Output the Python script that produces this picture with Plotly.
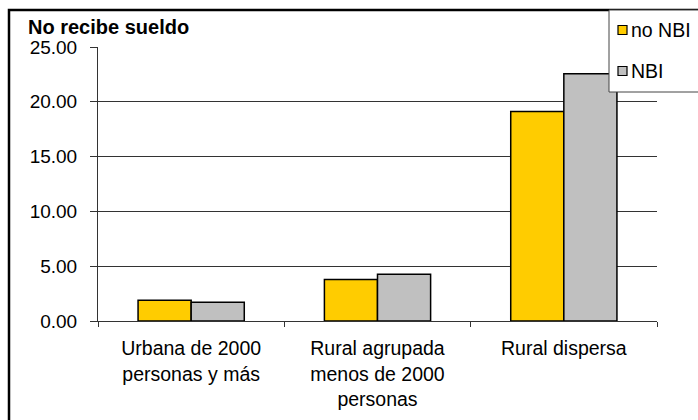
import plotly.graph_objects as go

categories = ["Urbana de 2000<br>personas y más", "Rural agrupada<br>menos de 2000<br>personas", "Rural dispersa"]
series_names = ["no NBI", "NBI"]
no_nbi = [1.90, 3.78, 19.12]
nbi = [1.71, 4.27, 22.57]
y_ticks = [0, 5, 10, 15, 20, 25]
title_text = "No recibe sueldo"

colors = ["#FFCC00", "#C0C0C0"]
W, H = 698, 420
L, R, T, B = 98, 657, 47, 321

def px(x):
    return (x - L) / (R - L)

def py(y):
    return (B - y) / (B - T)

FONT = "Liberation Sans, Arial, sans-serif"

fig = go.Figure()
for name, vals, c in zip(series_names, [no_nbi, nbi], colors):
    fig.add_trace(go.Bar(x=categories, y=vals, name=name, marker=dict(color=c, line=dict(color="#000", width=1.5)),
                         showlegend=False))

fig.update_layout(
    width=W, height=H,
    margin=dict(l=L, r=W - R, t=T, b=H - B, autoexpand=False),
    paper_bgcolor="white", plot_bgcolor="white",
    barmode="group", bargap=0.43, bargroupgap=0,
    font=dict(family=FONT, size=18, color="#000"),
)
fig.update_yaxes(range=[0, 25], tickvals=y_ticks, tickformat=".2f", showgrid=True, gridcolor="#333", gridwidth=1,
                 showline=True, linecolor="#333", linewidth=1, ticks="outside", ticklen=7, tickcolor="#333",
                 zeroline=False, tickfont=dict(size=19), ticklabelstandoff=9)
fig.update_xaxes(showline=True, linecolor="#333", linewidth=1, ticks="outside", ticklen=5, tickcolor="#333",
                 tickson="boundaries", tickfont=dict(size=19.5), ticklabelstandoff=10)

shapes = []
# outer chart border
shapes.append(dict(type="rect", xref="paper", yref="paper", x0=px(9), x1=px(720), y0=py(440), y1=py(10),
                   line=dict(color="#000", width=2.5), fillcolor="rgba(0,0,0,0)", layer="above"))
# legend frame
shapes.append(dict(type="rect", xref="paper", yref="paper", x0=px(609), x1=px(720), y0=py(92), y1=py(10),
                   line=dict(color="#444", width=1), fillcolor="white", layer="above"))
annotations = []
for i, (name, c) in enumerate(zip(series_names, colors)):
    cy = 30 + i * 41
    shapes.append(dict(type="rect", xref="paper", yref="paper", x0=px(618), x1=px(627), y0=py(cy + 4.5), y1=py(cy - 4.5),
                       line=dict(color="#000", width=1.2), fillcolor=c, layer="above"))
    annotations.append(dict(xref="paper", yref="paper", x=px(629), y=py(cy), text=name, showarrow=False,
                            xanchor="left", yanchor="middle", font=dict(size=19.5, family=FONT)))
annotations.append(dict(xref="paper", yref="paper", x=px(26), y=py(26.5), text="<b>" + title_text + "</b>", showarrow=False,
                        xanchor="left", yanchor="middle", font=dict(size=20, family=FONT)))
fig.update_layout(shapes=shapes, annotations=annotations)

fig.write_html("out.html", post_script="document.body.style.margin='0';", config={"displayModeBar": False})
